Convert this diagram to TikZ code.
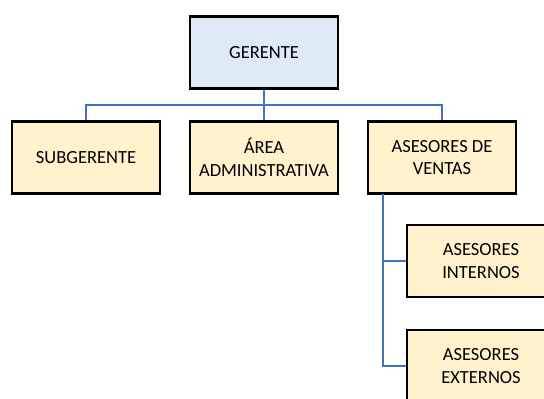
\documentclass[tikz,border=0pt]{standalone}
\usepackage{fontspec}
\setmainfont{Carlito}
\definecolor{jefe}{HTML}{DEEBF7}
\definecolor{area}{HTML}{FFF2CC}
\definecolor{linea}{HTML}{4472C4}
\begin{document}
\begin{tikzpicture}[x=1pt,y=-1pt]
    \tikzstyle{cargo}=[rectangle,draw=black,line width=2.6pt,fill=area,minimum width=148pt,minimum height=72pt,align=center,font=\fontsize{18.5}{22.5}\selectfont,inner sep=0pt]
    \tikzstyle{enlace}=[draw=linea,line width=2.4pt]
    \useasboundingbox (0,0) rectangle (544,399);
    \coordinate (bus)   at (264,105);
    \coordinate (trunk) at (383,194);
    \node[cargo,fill=jefe] (gerente)  at (264,52.5) {GERENTE};
    \node[cargo]           (sub)      at (86,157.5)  {SUBGERENTE};
    \node[cargo]           (admin)    at (264,157.5) {ÁREA\\ADMINISTRATIVA};
    \node[cargo]           (ventas)   at (442,157.5) {ASESORES DE\\VENTAS};
    \node[cargo]           (internos) at (481,261)   {ASESORES\\INTERNOS};
    \node[cargo]           (externos) at (481,366)   {ASESORES\\EXTERNOS};
    \draw[enlace] (gerente.south) -- (admin.north);
    \draw[enlace] (sub.north) |- (bus) -| (ventas.north);
    \draw[enlace] (trunk) |- (internos.west);
    \draw[enlace] (trunk) |- (externos.west);

\end{tikzpicture}
\end{document}
